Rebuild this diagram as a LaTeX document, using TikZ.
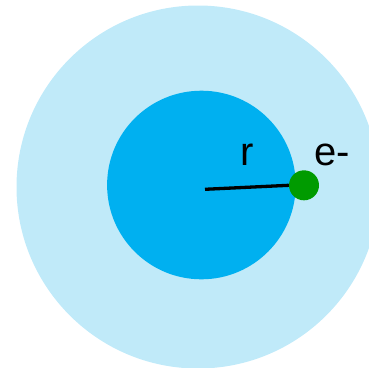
\documentclass[tikz,border=0pt]{standalone}
\usepackage{fontspec}
\setmainfont{Liberation Sans}
\usetikzlibrary{positioning,calc}
\definecolor{shell}{RGB}{192,234,249}
\definecolor{core}{RGB}{0,176,240}
\definecolor{particle}{RGB}{0,155,0}
\tikzset{
  orbit/.style={circle,fill=#1,inner sep=0pt,draw=none},
  orbit/.default=shell,
  radius line/.style={line width=3.3pt,draw=black},
  tag/.style={font=\fontsize{40}{44}\selectfont,anchor=base,inner sep=0pt},
}
\begin{document}
\begin{tikzpicture}[x=1pt,y=-1pt]
  \useasboundingbox (0,0) rectangle (369,367);
  \begin{scope}
    \clip (0,0) rectangle (369,367);
    \node[orbit=shell,minimum size=363pt] (outer) at (198,187) {};
  \end{scope}
  \node[orbit=core,minimum size=188.6pt] (inner) at (201.4,185) {};
  \coordinate (centre) at (205,189.3);
  \node[orbit=particle,minimum size=30pt] (electron) at (304,185.3) {};
  \draw[radius line] (centre) -- (electron.west);
  \node[tag] (rlabel) at (247.5,165) {r};
  \node[tag] (elabel) at (332.5,165) {e-};
\end{tikzpicture}
\end{document}
